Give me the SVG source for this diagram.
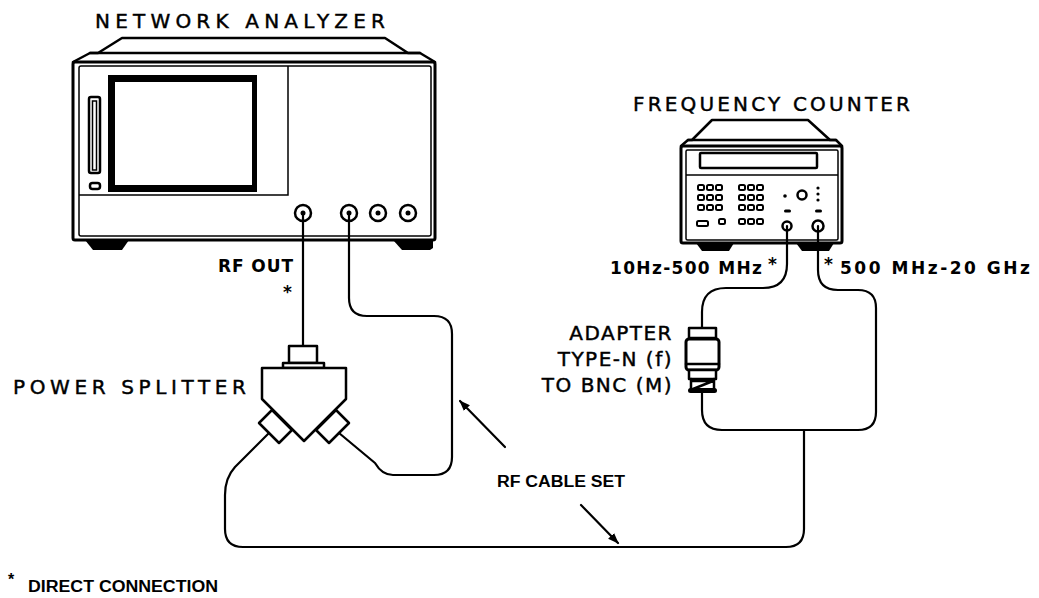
<svg xmlns="http://www.w3.org/2000/svg" width="1039" height="598" viewBox="0 0 1039 598">
<style>
.ln{fill:none;stroke:#000;stroke-width:2.5;stroke-linejoin:round;stroke-linecap:round}
.thk{fill:none;stroke:#000;stroke-width:3;stroke-linejoin:round}
.thn{fill:none;stroke:#000;stroke-width:1.5}
.blk{fill:#000}
.wht{fill:#fff;stroke:#000;stroke-width:2.5;stroke-linejoin:round}
.key{fill:#fff;stroke:#000;stroke-width:2}
.cab{fill:none;stroke:#000;stroke-width:2.2;stroke-linecap:round;stroke-linejoin:round}
.t1{font-family:"DejaVu Sans",sans-serif;font-size:20px;fill:#000;stroke:#000;stroke-width:0.45}
.t2{font-family:"DejaVu Sans",sans-serif;font-size:17px;font-weight:bold;fill:#000}
.t3{font-family:"Liberation Sans",Arial,sans-serif;font-size:16px;font-weight:bold;fill:#000}
</style>
<defs>
<marker id="ah" viewBox="0 0 10 10" refX="9" refY="5" markerWidth="5" markerHeight="5" orient="auto" markerUnits="strokeWidth">
<path d="M0,1.2 L10,5 L0,8.8 z" fill="#000"/>
</marker>
</defs>
<rect width="1039" height="598" fill="#fff"/>

<g id="network-analyzer">
<text class="t1" x="95" y="28" textLength="290" lengthAdjust="spacing">NETWORK  ANALYZER</text>
<path class="ln" d="M73,62 L90,53 L98,53 L122,38 L385,38 L408,53 L420,53 L435,62"/>
<line class="ln" x1="90" y1="53" x2="420" y2="53"/>
<rect class="thk" x="73" y="62" width="362" height="178" rx="2"/>
<rect class="thn" x="79" y="66" width="352" height="170" rx="2"/>
<rect class="blk" x="108" y="75" width="149" height="117"/>
<rect x="115" y="82" width="137" height="103" fill="#fff"/>
<polyline class="thn" points="288,66 288,195 79,195"/>
<rect class="ln" x="89" y="97" width="11" height="76" rx="2"/>
<rect class="thn" x="92.5" y="101" width="4" height="69"/>
<rect class="ln" x="90" y="183" width="10" height="6" rx="2.5"/>
<path class="blk" d="M85,240 L129,240 L122,250 L93,250 Z"/>
<path class="blk" d="M393,240 L433,240 L433,248 L430,250 L402,250 Z"/>
<circle class="wht" cx="303" cy="213" r="8"/>
<circle class="wht" cx="349" cy="213" r="8"/>
<circle class="wht" cx="378" cy="213" r="8"/>
<circle class="wht" cx="408" cy="213" r="8"/>
<circle class="blk" cx="303" cy="213" r="2.5"/>
<circle class="blk" cx="349" cy="213" r="2.5"/>
<circle class="blk" cx="378" cy="213" r="2.5"/>
<circle class="blk" cx="408" cy="213" r="2.5"/>
<text class="t2" x="218" y="272" textLength="75" lengthAdjust="spacing">RF  OUT</text>
<text class="t2" x="283" y="298">*</text>
</g>

<g id="frequency-counter">
<text class="t1" x="633" y="111" textLength="277" lengthAdjust="spacing">FREQUENCY  COUNTER</text>
<path class="ln" d="M681,146 L688,140 L692,140 L712,120 L808,120 L830,140 L836,140 L842,146"/>
<line class="ln" x1="688" y1="140" x2="836" y2="140"/>
<rect class="thk" x="681" y="146" width="161" height="97" rx="2"/>
<rect class="thn" x="686" y="150" width="152" height="90" rx="1.5"/>
<rect class="ln" x="700" y="153" width="117" height="15" rx="1"/>
<line class="thn" x1="686" y1="175" x2="838" y2="175"/>
<g>
<rect class="key" x="698" y="185" width="6" height="5" rx="1.5"/><rect class="key" x="707" y="185" width="6" height="5" rx="1.5"/><rect class="key" x="716" y="185" width="6" height="5" rx="1.5"/>
<rect class="key" x="739" y="185" width="6" height="5" rx="1.5"/><rect class="key" x="748" y="185" width="6" height="5" rx="1.5"/><rect class="key" x="757" y="185" width="6" height="5" rx="1.5"/>
<rect class="key" x="698" y="195" width="6" height="5" rx="1.5"/><rect class="key" x="707" y="195" width="6" height="5" rx="1.5"/><rect class="key" x="716" y="195" width="6" height="5" rx="1.5"/>
<rect class="key" x="739" y="195" width="6" height="5" rx="1.5"/><rect class="key" x="748" y="195" width="6" height="5" rx="1.5"/><rect class="key" x="757" y="195" width="6" height="5" rx="1.5"/>
<rect class="key" x="698" y="205" width="6" height="5" rx="1.5"/><rect class="key" x="707" y="205" width="6" height="5" rx="1.5"/><rect class="key" x="716" y="205" width="6" height="5" rx="1.5"/>
<rect class="key" x="739" y="205" width="6" height="5" rx="1.5"/><rect class="key" x="748" y="205" width="6" height="5" rx="1.5"/><rect class="key" x="757" y="205" width="6" height="5" rx="1.5"/>
<rect class="key" x="697" y="221" width="11" height="5" rx="1.5"/><rect class="key" x="719" y="219" width="6" height="5" rx="1.5"/>
<rect class="key" x="739" y="219" width="6" height="5" rx="1.5"/><rect class="key" x="748" y="219" width="6" height="5" rx="1.5"/><rect class="key" x="757" y="219" width="6" height="5" rx="1.5"/>
</g>
<circle class="blk" cx="785" cy="196" r="1.8"/>
<circle class="ln" cx="802" cy="195" r="4.5"/>
<circle class="blk" cx="818" cy="188" r="1.6"/><circle class="blk" cx="818" cy="194" r="1.6"/><circle class="blk" cx="818" cy="200" r="1.6"/>
<rect class="blk" x="784" y="209.5" width="7" height="3" rx="1.5"/>
<rect class="blk" x="815" y="209.5" width="7" height="3" rx="1.5"/>
<circle class="wht" cx="787" cy="226" r="4.5"/>
<circle class="wht" cx="818" cy="226" r="5.5"/>
<path class="blk" d="M696,243 L734,243 L729,251 L702,251 Z"/>
<path class="blk" d="M796,243 L834,243 L829,251 L802,251 Z"/>
<text class="t2" x="610" y="274" textLength="152" lengthAdjust="spacing">10Hz-500  MHz</text>
<text class="t2" x="768" y="270">*</text>
<text class="t2" x="824" y="270">*</text>
<text class="t2" x="840" y="274" textLength="190" lengthAdjust="spacing">500  MHz-20  GHz</text>
</g>

<g id="adapter">
<text class="t1" x="673" y="340" text-anchor="end" letter-spacing="1.5">ADAPTER</text>
<text class="t1" x="673" y="366" text-anchor="end" letter-spacing="1.5">TYPE-N (f)</text>
<text class="t1" x="673" y="392" text-anchor="end" letter-spacing="1.5">TO BNC (M)</text>
<rect class="wht" x="689" y="328" width="27" height="10"/>
<rect class="thk" x="686" y="339" width="33" height="31" rx="3" fill="#fff"/>
<line class="ln" x1="686" y1="364" x2="719" y2="364"/>
<rect class="wht" x="689" y="370" width="27" height="9"/>
<path class="ln" d="M691,379 V389 M714,379 V389 M713,381 L693,389 M693,381 H713"/>
<rect class="blk" x="688" y="388" width="29" height="5" rx="2.5"/>
</g>

<g id="power-splitter">
<text class="t1" x="13" y="394" textLength="233" lengthAdjust="spacing">POWER  SPLITTER</text>
<rect class="wht" x="289" y="346" width="28" height="17"/>
<rect class="wht" x="283" y="363" width="41" height="5"/>
<path class="wht" d="M262,368 H346 V399 L304,441 L262,399 Z"/>
<path class="wht" d="M272,410 L292,430 L279,443 L259,423 Z"/>
<path class="wht" d="M336,410 L316,430 L329,443 L349,423 Z"/>
</g>

<g id="connectors">
<line class="cab" x1="303" y1="213" x2="303" y2="346"/>
<path class="cab" d="M349,213 V298 Q349,316 367,316 H434 Q452,316 452,334 V457 Q452,475 434,475 H393 Q382,475 375,463 L339,433"/>
<path class="cab" d="M269,433 L235,467 Q225,478 225,495 V529 Q225,547 243,547 H786 Q804,547 804,529 V430"/>
<path class="cab" d="M787,226 V264 Q787,288 763,288 H726 Q702,288 702,312 V328"/>
<path class="cab" d="M702,393 V410 Q702,430 722,430 H858 Q876,430 876,412 V308 Q876,290 858,290 H838 Q818,290 818,270 V226"/>
<line class="cab" x1="505" y1="447" x2="460" y2="401" marker-end="url(#ah)"/>
<line class="cab" x1="581" y1="505" x2="618" y2="543" marker-end="url(#ah)"/>
</g>

<text class="t3" x="497" y="487" textLength="128" lengthAdjust="spacingAndGlyphs">RF CABLE SET</text>
<text class="t3" x="8" y="585">*</text>
<text class="t3" x="28" y="592" textLength="190" lengthAdjust="spacingAndGlyphs">DIRECT  CONNECTION</text>
</svg>
